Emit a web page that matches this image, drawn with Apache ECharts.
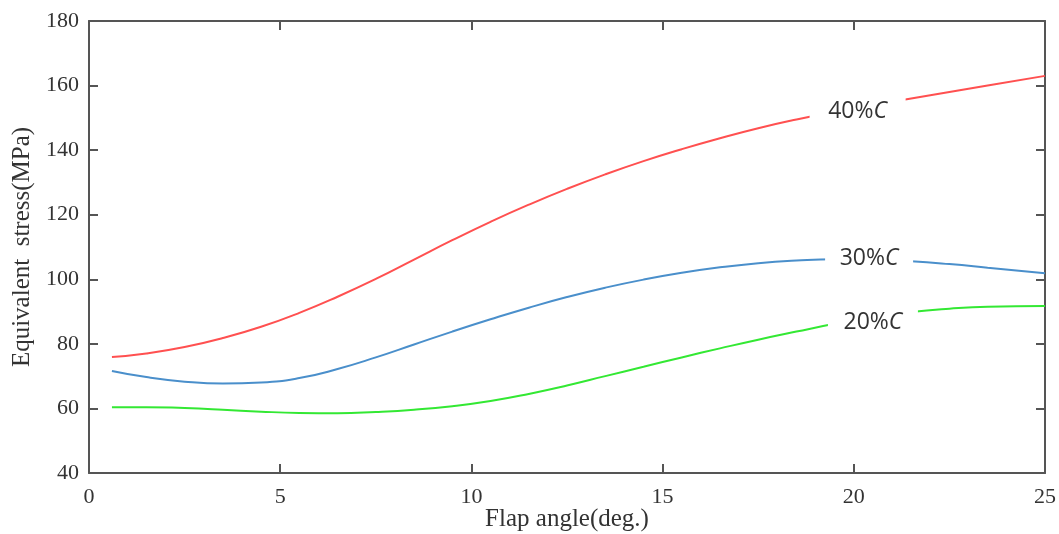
<!DOCTYPE html>
<html>
<head>
<meta charset="utf-8">
<script src="https://cdn.jsdelivr.net/npm/echarts@6/dist/echarts.min.js"></script>
<style>
  html, body { margin: 0; padding: 0; background: #fff; }
  #chart { width: 1059px; height: 534px; }
</style>
</head>
<body>
<div id="chart"></div>
<script>
var chart = echarts.init(document.getElementById("chart"));

// flap angle (deg.) and equivalent stress (MPa)
let angle = [0.6, 1.5, 2.5, 3.5, 4.5, 5.5, 6.5, 7.5, 8.5, 9.5, 10.5, 11.5, 12.5,
  13.5, 14.5, 15.5, 16.5, 17.5, 18.5, 19.5, 20.5, 21.5, 22.5, 23.5, 25];
let stress40 = [75.9, 77.0, 79.0, 81.8, 85.3, 89.6, 94.6, 100.1, 106.1, 112.1, 117.8, 123.1, 128.0,
  132.5, 136.6, 140.3, 143.7, 146.8, 149.5, 151.9, 154.0, 156.0, 158.0, 160.0, 163.0];
let stress30 = [71.6, 69.7, 68.3, 67.7, 68.0, 69.4, 72.2, 75.8, 79.8, 83.8, 87.6, 91.2, 94.5,
  97.4, 99.9, 102.0, 103.7, 105.0, 105.8, 106.2, 106.2, 105.6, 104.7, 103.6, 101.9];
let stress20 = [60.4, 60.4, 60.1, 59.6, 59.0, 58.6, 58.5, 58.9, 59.6, 60.7, 62.3, 64.5, 67.1,
  70.0, 72.9, 75.8, 78.6, 81.3, 83.8, 86.2, 88.3, 89.9, 90.9, 91.5, 91.7];

// in-line curve labels: text and where they sit
let labelNames = ["40%", "30%", "20%"];
let labelAt = [[20.1, 152.0], [20.4, 106.4], [20.5, 86.5]];

function pairs(ys) {
  return angle.map(function (x, i) { return [x, ys[i]]; });
}

function curve(name, ys, color, idx, boxW) {
  return {
    name: name,
    type: "line",
    smooth: true,
    showSymbol: false,
    data: pairs(ys),
    lineStyle: { color: color, width: 2 },
    markPoint: {
      silent: true,
      symbol: "rect",
      symbolSize: [boxW, 30],
      itemStyle: { color: "#fff" },
      label: {
        show: true,
        position: "inside",
        formatter: "{a|" + labelNames[idx] + "}{b|C}",
        rich: {
          a: { fontFamily: "Open Sans", fontSize: 23, color: "#333" },
          b: { fontFamily: "Open Sans", fontSize: 23, color: "#333", fontStyle: "italic" }
        }
      },
      data: [{ coord: labelAt[idx] }]
    }
  };
}

// box frame: every axis sits on its own edge, not on zero
function axisLine() {
  return { show: true, onZero: false, lineStyle: { color: "#555", width: 2 } };
}
function axisTick() {
  return { show: true, inside: true, length: 9, lineStyle: { color: "#555", width: 2 } };
}
let tickFont = { fontFamily: "Liberation Serif", fontSize: 22, color: "#333" };

chart.setOption({
  animation: false,
  backgroundColor: "#fff",
  grid: { left: 89, right: 14, top: 21, bottom: 61, outerBoundsMode: "none", containLabel: false },
  xAxis: [
    {
      type: "value",
      min: 0, max: 25, interval: 5,
      name: "Flap angle(deg.)",
      nameLocation: "middle",
      nameGap: 34,
      nameMoveOverlap: false,
      nameTextStyle: { fontFamily: "Liberation Serif", fontSize: 25, color: "#333" },
      axisLine: axisLine(),
      axisTick: axisTick(),
      axisLabel: Object.assign({ margin: 13 }, tickFont),
      splitLine: { show: false }
    },
    {
      type: "value",
      position: "top",
      min: 0, max: 25, interval: 5,
      axisLine: axisLine(),
      axisTick: axisTick(),
      axisLabel: { show: false },
      splitLine: { show: false }
    }
  ],
  yAxis: [
    {
      type: "value",
      position: "left",
      min: 40, max: 180, interval: 20,
      name: "Equivalent  stress(MPa)",
      nameLocation: "middle",
      nameGap: 54,
      nameMoveOverlap: false,
      nameTextStyle: { fontFamily: "Liberation Serif", fontSize: 25, color: "#333" },
      axisLine: axisLine(),
      axisTick: axisTick(),
      axisLabel: Object.assign({ margin: 10 }, tickFont),
      splitLine: { show: false }
    },
    {
      type: "value",
      position: "right",
      min: 40, max: 180, interval: 20,
      axisLine: axisLine(),
      axisTick: axisTick(),
      axisLabel: { show: false },
      splitLine: { show: false }
    }
  ],
  series: [
    curve("40%C", stress40, "#ff5050", 0, 96),
    curve("30%C", stress30, "#4a8fcb", 1, 88),
    curve("20%C", stress20, "#33e833", 2, 90)
  ]
});
</script>
</body>
</html>
